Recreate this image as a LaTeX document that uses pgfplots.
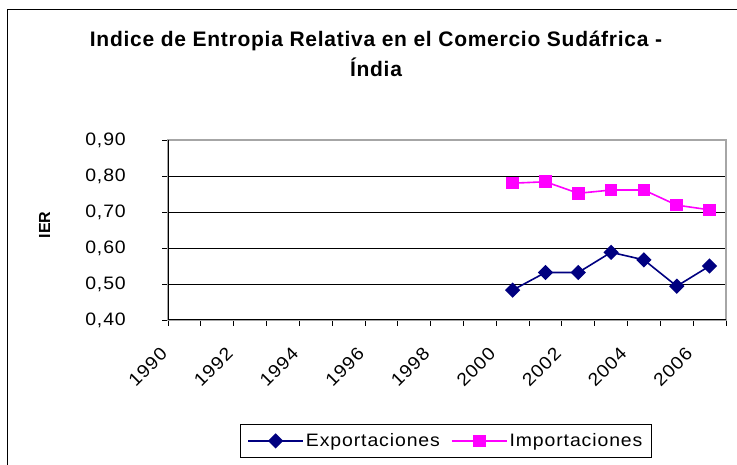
\documentclass[border=0pt]{standalone}
\usepackage{fontspec}
\setmainfont{Liberation Sans}
\newfontfamily\tickfont[LetterSpace=5,FakeStretch=1.08]{Liberation Sans}
\newfontfamily\titlefont[LetterSpace=3.5]{Liberation Sans}
\usepackage{pgfplots}
\pgfplotsset{compat=1.18}
\definecolor{navyblue}{RGB}{0,0,128}
\definecolor{mag}{RGB}{255,0,255}
\begin{document}
\begin{tikzpicture}[x=1pt,y=1pt]
\useasboundingbox (0,0) rectangle (737,465);
\draw[line width=1pt] (7,0) -- (7,455) -- (737,455);
\node[font=\titlefont\bfseries\fontsize{21}{25}\selectfont, anchor=base, inner sep=0pt] at (376,418) {Indice de Entropia Relativa en el Comercio Sudáfrica -};
\node[font=\titlefont\bfseries\fontsize{21}{25}\selectfont, anchor=base, inner sep=0pt] at (376,388) {Índia};
\node[font=\bfseries\fontsize{16}{19}\selectfont, rotate=90, inner sep=0pt] at (44.5,240) {IER};
\begin{axis}[
  scale only axis, width=558pt, height=180pt,
  at={(168pt,145pt)}, anchor=south west,
  xmin=1989.5, xmax=2006.5, ymin=0.4, ymax=0.9,
  xtick={1990,1992,1994,1996,1998,2000,2002,2004,2006},
  xticklabels={1990,1992,1994,1996,1998,2000,2002,2004,2006},
  minor xtick={1989.5,1990.5,1991.5,1992.5,1993.5,1994.5,1995.5,1996.5,1997.5,1998.5,1999.5,2000.5,2001.5,2002.5,2003.5,2004.5,2005.5,2006.5},
  ytick={0.4,0.5,0.6,0.7,0.8,0.9},
  yticklabels={{0,40},{0,50},{0,60},{0,70},{0,80},{0,90}},
  xtick pos=bottom, ytick pos=left,
  tick align=outside, major tick length=6pt, minor tick length=6pt,
  major x tick style={draw=none},
  tick style={black, line width=0.8pt},
  ymajorgrids, major grid style={black, line width=0.8pt},
  axis line style={gray!70, line width=1.3pt},
  /pgf/number format/assume math mode=true,
  xticklabel style={font=\tickfont\fontsize{18}{21}\selectfont, inner sep=0pt, xshift=-25pt, yshift=-20pt, rotate=45, anchor=north east},
  yticklabel style={font=\tickfont\fontsize{18}{21}\selectfont, inner sep=0pt, anchor=east, xshift=-36pt},
  legend columns=2,
  legend style={at={(0.498,-0.672)}, anchor=center, draw=black, font=\tickfont\fontsize{18}{21}\selectfont,
    inner xsep=7pt, inner ysep=7pt,
    /tikz/every even column/.append style={column sep=9pt}},
  legend image code/.code={\draw[mark repeat=2,mark phase=2] plot coordinates {(0pt,0pt) (27.5pt,0pt) (55pt,0pt)};},
]
\addplot[color=navyblue, line width=1.6pt, mark=square*, mark size=4.6pt, mark options={rotate=45, solid}] coordinates {
 (2000,0.483) (2001,0.532) (2002,0.532) (2003,0.588) (2004,0.567) (2005,0.494) (2006,0.550)};
\addplot[color=mag, line width=1.6pt, mark=square*, mark size=5.5pt, mark options={solid}] coordinates {
 (2000,0.780) (2001,0.784) (2002,0.752) (2003,0.761) (2004,0.761) (2005,0.719) (2006,0.706)};
\legend{Exportaciones, Importaciones}
\draw[black, line width=1pt] (rel axis cs:0,1) -- (rel axis cs:0,0) -- (rel axis cs:1,0);
\end{axis}
\end{tikzpicture}
\end{document}
